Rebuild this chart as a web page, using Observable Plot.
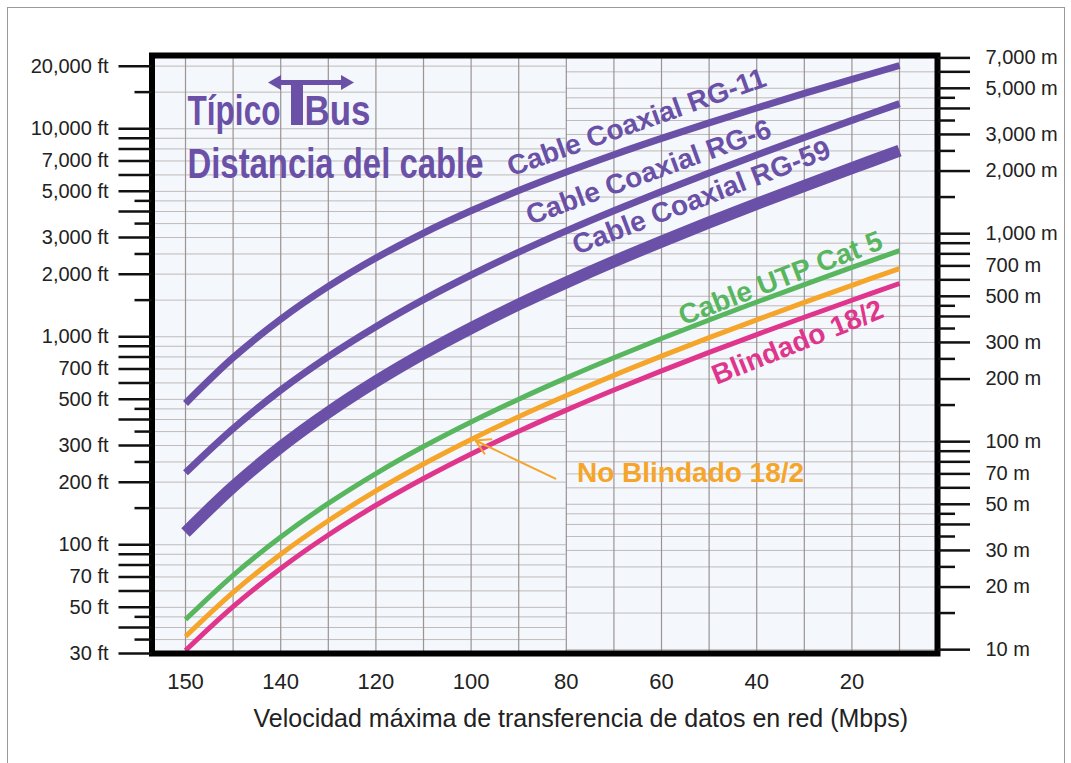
<!DOCTYPE html>
<html><head><meta charset="utf-8">
<script src="https://cdn.jsdelivr.net/npm/d3@7"></script>
<script src="https://cdn.jsdelivr.net/npm/@observablehq/plot@0.6"></script>
<style>
body{margin:0;background:#fff;}
#wrap{position:relative;width:1071px;height:763px;overflow:hidden;}
#border{position:absolute;left:7px;top:7px;width:1056px;height:800px;border:1px solid #9a9a9a;pointer-events:none;}
</style></head><body><div id="wrap"><div id="border"></div></div>
<script>
// ---- data ----
const speeds = [150,145,140,130,120,110,100,90,80,70,60,50,40,30,20,10];
const rg11    = [478,793,1214,1746,2391,3153,4033,5043,6195,7503,8985,10668,12582,14787,17268,20142];
const rg6     = [222,362,554,803,1118,1508,1981,2550,3228,4036,4995,6132,7481,9075,10969,13213];
const rg59    = [114.5,190,295,433,610,831,1101,1431,1825,2300,2866,3545,4353,5316,6468,7843];
const utp     = [43.7,71.3,108.9,158,219.9,296.5,389.4,501,634.5,793,981,1204,1469,1782,2154,2595];
const noBlind = [36.2,59,90,130.4,181.4,244.4,320.8,412.7,521.6,652.3,806.5,989.7,1206,1462,1767,2127];
const blind   = [31,50.4,76.9,111.4,154.8,208.2,273.2,351.2,443.9,554.3,685.4,840.4,1024,1241,1498,1803];
const seriesNames  = ["Cable Coaxial RG-11","Cable Coaxial RG-6","Cable Coaxial RG-59","Cable UTP Cat 5","No Blindado 18/2","Blindado 18/2"];
const seriesValues = [rg11, rg6, rg59, utp, noBlind, blind];

const xTicks = [150,140,120,100,80,60,40,20];
const ftMajor = [20000,10000,9000,8000,7000,6000,5000,4000,3000,2000,1000,900,800,700,600,500,400,300,200,100,90,80,70,60,50,40,30];
const ftMinor = [15000,4500,3500,2500,1500,450,350,250,150,45,35];
const ftLabeled = [20000,10000,7000,5000,3000,2000,1000,700,500,300,200,100,70,50,30];
const mMajor = [7000,6000,5000,4000,3000,2000,1000,900,800,700,600,500,400,300,200,100,90,80,70,60,50,40,30,20,10];
const mMinor = [4500,3500,2500,1500,450,350,250,150,45,35,25,15];
const mLabeled = [7000,5000,3000,2000,1000,700,500,300,200,100,70,50,30,20,10];
const FT_PER_M = 3.13; // ratio as drawn in the reference's right axis

const labelTexts  = ["Cable Coaxial RG-11","Cable Coaxial RG-6","Cable Coaxial RG-59","Cable UTP Cat 5","Blindado 18/2","No Blindado 18/2"];
const labelSpeeds = [65.25, 62.7, 51.6, 35, 31.4, 53.9];
const labelFt     = [10720, 6162, 4670, 1905, 938, 220];
const labelAngles = [-19.5, -20, -21, -21, -22, 0];
const arrowFrom = [82.3, 208];
const arrowTo   = [99.1, 317];

// ---- styles ----
const purple = "#6a50a7", green = "#58b65e", orange = "#f5a52a", pink = "#df358c";
const seriesColors = [purple, purple, purple, green, orange, pink];
const seriesWidths = [7, 7, 12, 5, 5, 5];
const labelColors  = [purple, purple, purple, green, pink, orange];

// the printed speed axis is evenly spaced per grid step, not linear in Mbps
const idx = d3.scaleLinear().domain(speeds).range(d3.range(speeds.length));

const fmt = d3.format(",");
const labelRows = labelTexts.map((t, i) => ({t, speed: labelSpeeds[i], ft: labelFt[i], angle: labelAngles[i], c: labelColors[i]}));

const lineMarks = seriesNames.map((name, s) =>
  Plot.line(speeds.map((sp, i) => ({speed: sp, ft: seriesValues[s][i]})),
    {x: "speed", y: "ft", stroke: seriesColors[s], strokeWidth: seriesWidths[s], curve: "catmull-rom", strokeLinecap: "butt"}));

const plot = Plot.plot({
  width: 1071, height: 763,
  marginLeft: 151.5, marginRight: 134, marginTop: 55, marginBottom: 110,
  style: {fontFamily: "'Liberation Sans', Arial, sans-serif", background: "transparent", overflow: "visible"},
  x: {transform: idx, domain: [idx(153.52), idx(2.02)], axis: null, label: null},
  y: {type: "log", domain: [30, 22500], axis: null, label: null},
  marks: [
    Plot.frame({fill: "#f4f7fb", stroke: null}),
    Plot.ruleY([...ftMajor, ...ftMinor], {x1: 153.52, x2: 80, stroke: "#c0baba", strokeWidth: 1}),
    Plot.ruleY([...mMajor, ...mMinor].map(m => m * FT_PER_M), {x1: 80, x2: 2.02, stroke: "#c0baba", strokeWidth: 1}),
    Plot.ruleX(speeds, {stroke: "#9c9393", strokeWidth: 1.2}),
    ...lineMarks,
    Plot.text(labelRows, {x: "speed", y: "ft", text: "t", rotate: "angle", fill: "c", fontSize: 28, fontWeight: "bold"}),
    Plot.arrow([{a: arrowFrom, b: arrowTo}], {x1: d => d.a[0], y1: d => d.a[1], x2: d => d.b[0], y2: d => d.b[1], stroke: orange, strokeWidth: 2, headLength: 12}),
    Plot.text(["Típico"], {text: d => d, frameAnchor: "top-left", dx: 187 - 151.5, dy: 56, textAnchor: "start", lineAnchor: "middle", fontSize: 43, fontWeight: "bold", fill: purple}),
    Plot.text(["Bus"], {text: d => d, frameAnchor: "top-left", dx: 304 - 151.5, dy: 56, textAnchor: "start", lineAnchor: "middle", fontSize: 43, fontWeight: "bold", fill: purple}),
    Plot.text(["Distancia del cable"], {text: d => d, frameAnchor: "top-left", dx: 187 - 151.5, dy: 109, textAnchor: "start", lineAnchor: "middle", fontSize: 43, fontWeight: "bold", fill: purple}),
    Plot.frame({stroke: "#000", strokeWidth: 6}),
    Plot.axisY(ftMajor, {anchor: "left", tickSize: 33, strokeWidth: 2.5, stroke: "#111", label: null, tickFormat: () => ""}),
    Plot.axisY(ftMinor, {anchor: "left", tickSize: 17, strokeWidth: 2.5, stroke: "#111", label: null, tickFormat: () => ""}),
    Plot.text(ftLabeled, {y: d => d, text: d => fmt(d) + " ft", frameAnchor: "left", dx: -43.5, textAnchor: "end", fontSize: 20, fill: "#222"}),
    Plot.axisY(mMajor.map(m => m * FT_PER_M), {anchor: "right", tickSize: 32, strokeWidth: 2.5, stroke: "#111", label: null, tickFormat: () => ""}),
    Plot.axisY(mMinor.map(m => m * FT_PER_M), {anchor: "right", tickSize: 17, strokeWidth: 2.5, stroke: "#111", label: null, tickFormat: () => ""}),
    Plot.text(mLabeled, {y: d => d * FT_PER_M, text: d => fmt(d) + " m", frameAnchor: "right", dx: 48, textAnchor: "start", fontSize: 20, fill: "#222"}),
    Plot.axisX(xTicks, {anchor: "bottom", tickSize: 0, tickPadding: 20, fontSize: 22, fill: "#222", label: null, tickFormat: d => String(d)}),
    Plot.text(["Velocidad máxima de transferencia de datos en red (Mbps)"], {text: d => d, frameAnchor: "bottom", dx: 36, dy: 65, lineAnchor: "middle", fontSize: 25, fill: "#222"})
  ]
});

// the "T" of TBus drawn as a stem under a double arrow
d3.select(plot).append("path")
  .attr("fill", purple)
  .attr("d", "M268,82.5L281,75L281,80L341,80L341,75L354,82.5L341,90L341,85L303,85L303,125L291,125L291,85L281,85L281,90Z");

document.getElementById("wrap").appendChild(plot);

// condensed title glyphs: horizontal scale about each text's left edge
const titleLengths = {"Típico": 93, "Bus": 66, "Distancia del cable": 296};
d3.select(plot).selectAll("text").each(function() {
  const t = this.textContent;
  if (!titleLengths[t]) return;
  const bb = this.getBBox();
  const sx = titleLengths[t] / bb.width;
  const own = this.getAttribute("transform") || "";
  const m = this.transform.baseVal.consolidate();
  const left = m ? m.matrix.a * bb.x + m.matrix.e : bb.x;
  this.setAttribute("transform", `translate(${left},0) scale(${sx},1) translate(${-left},0) ${own}`);
});
</script>
</body></html>
